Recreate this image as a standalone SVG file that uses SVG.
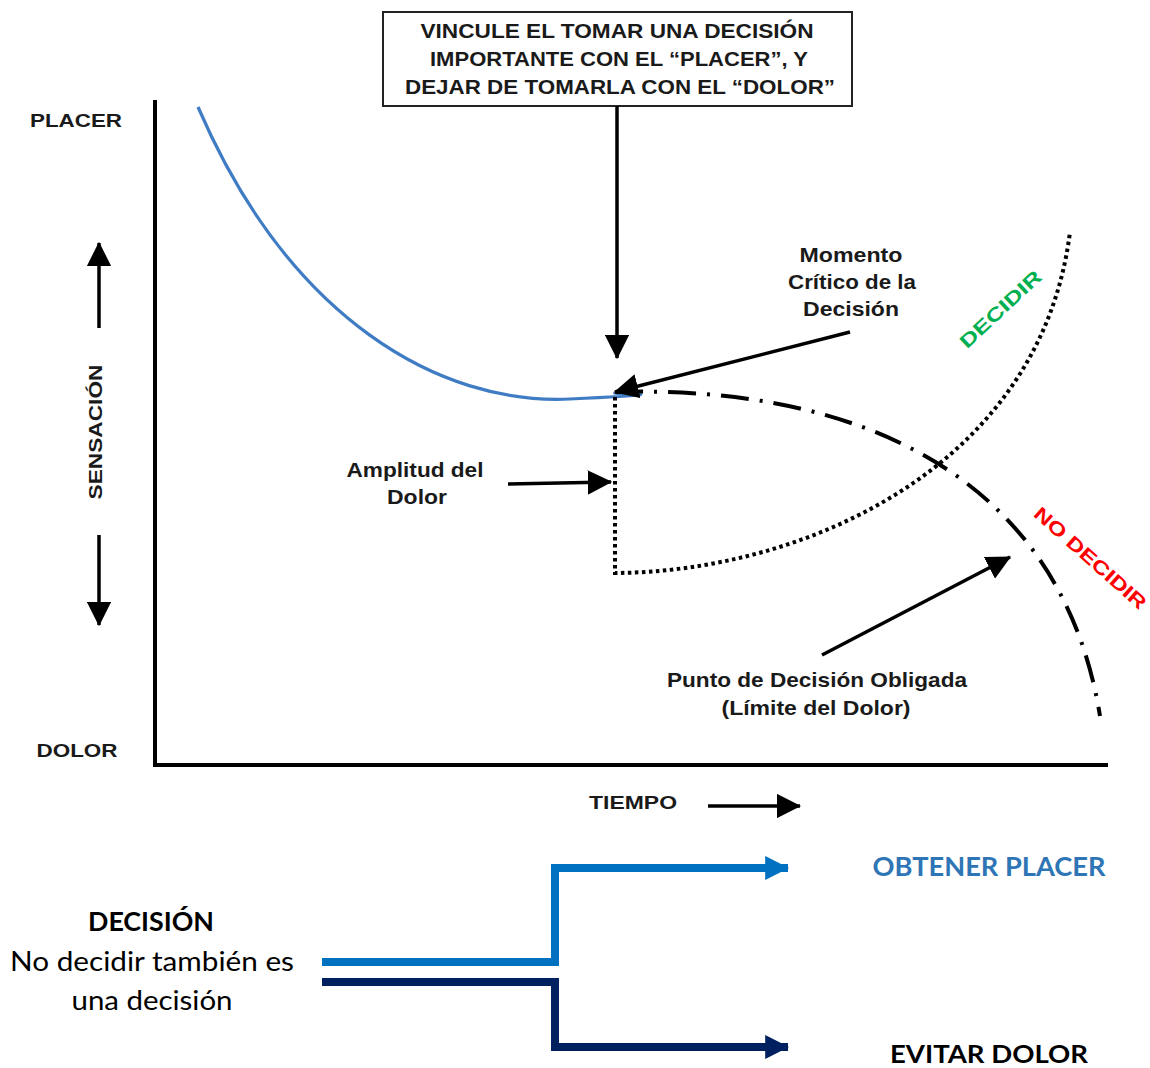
<svg xmlns="http://www.w3.org/2000/svg" width="1150" height="1068" viewBox="0 0 1150 1068">
<style>
.t{font-family:"Liberation Sans",Arial,sans-serif;font-weight:bold;fill:#1a1a1a;text-anchor:middle}
.c{font-family:Lato,"Open Sans",sans-serif;text-anchor:middle}
.ln{stroke:#000;stroke-width:3.5;fill:none}
</style>
<defs>
<marker id="ah" viewBox="0 0 10 10" refX="9.5" refY="5" markerWidth="7" markerHeight="7" markerUnits="strokeWidth" orient="auto"><path d="M0,0 L10,5 L0,10 Z" fill="#000"/></marker>
<marker id="bh1" viewBox="0 0 10 10" refX="9.5" refY="5" markerWidth="3" markerHeight="3.5" markerUnits="strokeWidth" orient="auto"><path d="M0,0 L10,5 L0,10 Z" fill="#0070c0"/></marker>
<marker id="bh2" viewBox="0 0 10 10" refX="9.5" refY="5" markerWidth="3" markerHeight="3.5" markerUnits="strokeWidth" orient="auto"><path d="M0,0 L10,5 L0,10 Z" fill="#002060"/></marker>
</defs>
<rect width="1150" height="1068" fill="#fff"/>

<g id="axes">
<path d="M155,100 L155,765 L1108,765" stroke="#000" stroke-width="4" fill="none"/>
</g>

<g id="title-box">
<rect x="383" y="12" width="469" height="94" fill="#fff" stroke="#222" stroke-width="2"/>
<text class="t" x="617" y="38" font-size="20" textLength="393" lengthAdjust="spacingAndGlyphs">VINCULE EL TOMAR UNA DECISIÓN</text>
<text class="t" x="619" y="66" font-size="20" textLength="378" lengthAdjust="spacingAndGlyphs">IMPORTANTE CON EL “PLACER”, Y</text>
<text class="t" x="620" y="94" font-size="20" textLength="430" lengthAdjust="spacingAndGlyphs">DEJAR DE TOMARLA CON EL “DOLOR”</text>
</g>

<g id="y-labels">
<text class="t" x="76" y="127" font-size="19" textLength="92" lengthAdjust="spacingAndGlyphs">PLACER</text>
<text class="t" x="77" y="757" font-size="19" textLength="81" lengthAdjust="spacingAndGlyphs">DOLOR</text>
<text class="t" x="0" y="0" font-size="19" textLength="135" lengthAdjust="spacingAndGlyphs" transform="translate(102,432) rotate(-90)">SENSACIÓN</text>
</g>

<g id="curves">
<path d="M198,107 C290,320 440,405 570,399 S610,394 615,393" stroke="#3f7cc4" stroke-width="3.2" fill="none"/>
<path d="M615,392 C850,385 1060,470 1100,716" stroke="#000" stroke-width="4" fill="none" stroke-dasharray="28 11 3 11"/>
<path d="M615,397 L615,573 C800,572 1040,470 1070,232" stroke="#000" stroke-width="4" fill="none" stroke-dasharray="3.5 3.5"/>
<text x="0" y="0" font-family="Liberation Sans,Arial,sans-serif" font-weight="bold" font-size="19" fill="#00b050" text-anchor="middle" textLength="104" lengthAdjust="spacingAndGlyphs" transform="translate(1005,314) rotate(-43)">DECIDIR</text>
<text x="0" y="0" font-family="Liberation Sans,Arial,sans-serif" font-weight="bold" font-size="19" fill="#ff0000" text-anchor="middle" textLength="143" lengthAdjust="spacingAndGlyphs" transform="translate(1086,563) rotate(41.6)">NO DECIDIR</text>
</g>

<g id="labels">
<text class="t" x="851" y="262" font-size="21" textLength="103" lengthAdjust="spacingAndGlyphs">Momento</text>
<text class="t" x="852" y="289" font-size="21" textLength="128" lengthAdjust="spacingAndGlyphs">Crítico de la</text>
<text class="t" x="851" y="316" font-size="21" textLength="96" lengthAdjust="spacingAndGlyphs">Decisión</text>
<text class="t" x="415" y="477" font-size="21" textLength="137" lengthAdjust="spacingAndGlyphs">Amplitud del</text>
<text class="t" x="417" y="504" font-size="21" textLength="60" lengthAdjust="spacingAndGlyphs">Dolor</text>
<text class="t" x="817" y="687" font-size="21" textLength="300" lengthAdjust="spacingAndGlyphs">Punto de Decisión Obligada</text>
<text class="t" x="816" y="715" font-size="21" textLength="189" lengthAdjust="spacingAndGlyphs">(Límite del Dolor)</text>
<text class="t" x="633" y="809" font-size="19" textLength="88" lengthAdjust="spacingAndGlyphs">TIEMPO</text>
</g>

<g id="connectors">
<line class="ln" x1="99" y1="328" x2="99" y2="243" marker-end="url(#ah)"/>
<line class="ln" x1="99" y1="535" x2="99" y2="625" marker-end="url(#ah)"/>
<line class="ln" x1="617" y1="106" x2="617" y2="358" marker-end="url(#ah)"/>
<line class="ln" x1="850" y1="332" x2="615" y2="392" marker-end="url(#ah)"/>
<line class="ln" x1="508" y1="484" x2="611" y2="482" marker-end="url(#ah)"/>
<line class="ln" x1="822" y1="655" x2="1010" y2="557" marker-end="url(#ah)"/>
<line class="ln" x1="708" y1="806" x2="800" y2="806" marker-end="url(#ah)"/>
<path d="M322,962 L555,962 L555,868 L788,868" stroke="#0070c0" stroke-width="8" fill="none" marker-end="url(#bh1)"/>
<path d="M322,982 L555,982 L555,1047 L788,1047" stroke="#002060" stroke-width="8" fill="none" marker-end="url(#bh2)"/>
</g>

<g id="bottom-labels">
<text class="c" x="151" y="931" font-size="26" font-weight="bold" fill="#000" textLength="126" lengthAdjust="spacingAndGlyphs">DECISIÓN</text>
<text class="c" x="152" y="971" font-size="26" fill="#000" textLength="284" lengthAdjust="spacingAndGlyphs">No decidir también es</text>
<text class="c" x="152" y="1010" font-size="26" fill="#000" textLength="161" lengthAdjust="spacingAndGlyphs">una decisión</text>
<text class="c" x="989" y="876" font-size="26" font-weight="bold" fill="#2e75b6" textLength="233" lengthAdjust="spacingAndGlyphs">OBTENER PLACER</text>
<text class="c" x="989" y="1063" font-size="25" font-weight="bold" fill="#000" textLength="198" lengthAdjust="spacingAndGlyphs">EVITAR DOLOR</text>
</g>
</svg>
